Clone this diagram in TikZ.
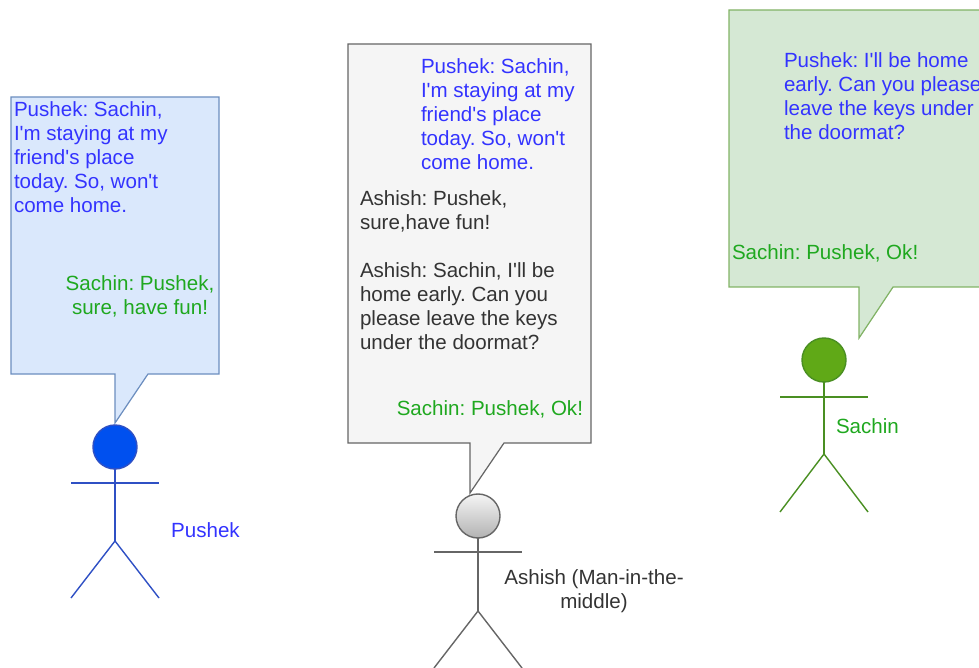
\documentclass[tikz,border=0pt]{standalone}
\usepackage{fontspec}
\setmainfont{Liberation Sans}[Ligatures=TeXOff]
\usetikzlibrary{calc}
\definecolor{pushekfill}{HTML}{DAE8FC}
\definecolor{pushekedge}{HTML}{6C8EBF}
\definecolor{pushekline}{HTML}{2F50C4}
\definecolor{pushekhead}{HTML}{0050EF}
\definecolor{ashishfill}{HTML}{F5F5F5}
\definecolor{ashishedge}{HTML}{666666}
\definecolor{sachinfill}{HTML}{D5E8D4}
\definecolor{sachinedge}{HTML}{82B366}
\definecolor{sachinline}{HTML}{4A8F22}
\definecolor{sachinhead}{HTML}{60A917}
\definecolor{bluetext}{HTML}{3333FF}
\definecolor{greentext}{HTML}{1FA81F}
\definecolor{graytext}{HTML}{333333}
\tikzstyle{talk}=[font=\fontsize{11.7}{13.6}\selectfont,inner sep=0,outer sep=0]
\tikzstyle{pushektalk}=[talk,text=bluetext,align=left,anchor=north west]
\tikzstyle{sachintalk}=[talk,text=greentext]
\tikzstyle{ashishtalk}=[talk,text=graytext,align=left,anchor=north west]
\tikzstyle{bubble}=[line width=0.7pt,line join=miter]
\tikzstyle{pushekman}=[draw=pushekline,line width=0.8pt]
\tikzstyle{ashishman}=[draw=ashishedge,line width=0.8pt]
\tikzstyle{sachinman}=[draw=sachinline,line width=0.8pt]
\begin{document}
\frenchspacing
\begin{tikzpicture}[x=0.02cm,y=-0.02cm]
\path[use as bounding box,clip] (0,0) rectangle (979,668);
% Pushek
\draw[bubble,draw=pushekedge,fill=pushekfill] (11,97) -- (219,97) -- (219,374) -- (148,374)
  -- (115,423) -- (115,374) -- (11,374) -- cycle;
\coordinate (P1) at (115,447);
\draw[pushekman] ($(P1)+(0,22)$) -- ++(0,72) coordinate (P2);
\draw[pushekman] ($(P1)+(-44,36)$) -- ++(88,0);
\draw[pushekman] (P2) -- ++(-44,57);
\draw[pushekman] (P2) -- ++(44,57);
\draw[pushekman,fill=pushekhead] (P1) circle[radius=22];
\node[pushektalk] (pushekmsg) at (14,102) {Pushek: Sachin,\\I'm staying at my\\friend's place\\today. So, won't\\come home.};
\node[sachintalk,align=center] (pushekreply) at (140,296.5) {Sachin: Pushek,\\sure, have fun!};
\node[talk,text=bluetext] (pushekname) at (205.5,530) {Pushek};
% Ashish
\draw[bubble,draw=ashishedge,fill=ashishfill] (348,44) -- (591,44) -- (591,443) -- (504,443)
  -- (470,493) -- (470,443) -- (348,443) -- cycle;
\coordinate (A1) at (478,516);
\draw[ashishman] ($(A1)+(0,22)$) -- ++(0,73) coordinate (A2);
\draw[ashishman] ($(A1)+(-44,36)$) -- ++(88,0);
\draw[ashishman] (A2) -- ++(-44,57);
\draw[ashishman] (A2) -- ++(44,57);
\draw[ashishman,top color=ashishfill,bottom color=black!30] (A1) circle[radius=22];
\node[pushektalk] (ashishin) at (421,59) {Pushek: Sachin,\\I'm staying at my\\friend's place\\today. So, won't\\come home.};
\node[ashishtalk] (ashishmsg) at (360,191) {Ashish: Pushek,\\sure,have fun!\\[13.6pt]Ashish: Sachin, I'll be\\home early. Can you\\please leave the keys\\under the doormat?};
\node[sachintalk,anchor=east] (ashishreply) at (583,409) {Sachin: Pushek, Ok!};
\node[talk,text=graytext,align=center] (ashishname) at (594,591) {Ashish (Man-in-the-\\middle)};
% Sachin
\draw[bubble,draw=sachinedge,fill=sachinfill] (729,10) -- (1010,10) -- (1010,287) -- (893,287)
  -- (859,338) -- (859,287) -- (729,287) -- cycle;
\coordinate (S1) at (824,360);
\draw[sachinman] ($(S1)+(0,22)$) -- ++(0,72) coordinate (S2);
\draw[sachinman] ($(S1)+(-44,37)$) -- ++(88,0);
\draw[sachinman] (S2) -- ++(-44,58);
\draw[sachinman] (S2) -- ++(44,58);
\draw[sachinman,fill=sachinhead] (S1) circle[radius=22];
\node[pushektalk] (sachinin) at (784,53) {Pushek: I'll be home\\early. Can you please\\leave the keys under\\the doormat?};
\node[sachintalk,anchor=west] (sachinreply) at (732,253) {Sachin: Pushek, Ok!};
\node[sachintalk,anchor=west] (sachinname) at (836,426) {Sachin};
\end{tikzpicture}
\end{document}
